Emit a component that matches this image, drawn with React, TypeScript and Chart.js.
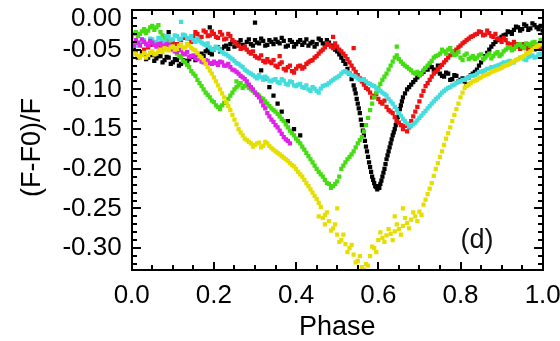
import React, { useEffect, useRef } from "react";
import { Chart, registerables } from "chart.js";

Chart.register(...registerables);

// ---- axis / tick definitions ----
const xMajorTicks = [0, 0.2, 0.4, 0.6, 0.8, 1.0];
const xMinorTicks = [0.05, 0.1, 0.15, 0.25, 0.3, 0.35, 0.45, 0.5, 0.55, 0.65, 0.7, 0.75, 0.85, 0.9, 0.95];
const yMajorTicks = [0, -0.05, -0.1, -0.15, -0.2, -0.25, -0.3];
const yMinorTicks = [-0.01, -0.02, -0.03, -0.04, -0.06, -0.07, -0.08, -0.09, -0.11, -0.12, -0.13, -0.14, -0.16, -0.17, -0.18, -0.19, -0.21, -0.22, -0.23, -0.24, -0.26, -0.27, -0.28, -0.29, -0.31, -0.32];
const xTitle = "Phase";
const yTitle = "(F-F0)/F  ";
const panelLabel = "(d)";
const panelLabelPos = [0.84, -0.29];

// ---- data: [phase, (F-F0)/F] ----
const black = [
  [0, -0.056], [0.01, -0.052], [0.02, -0.058], [0.03, -0.055], [0.04, -0.06], [0.05, -0.057], [0.06, -0.061], [0.07, -0.058], [0.08, -0.063], [0.09, -0.06],
  [0.1, -0.066], [0.11, -0.063], [0.12, -0.068], [0.13, -0.064], [0.14, -0.062], [0.15, -0.058], [0.16, -0.06], [0.17, -0.055], [0.18, -0.052], [0.19, -0.054],
  [0.2, -0.05], [0.21, -0.047], [0.22, -0.05], [0.23, -0.045], [0.24, -0.043], [0.25, -0.046], [0.26, -0.041], [0.27, -0.044], [0.28, -0.04], [0.29, -0.043],
  [0.3, -0.038], [0.31, -0.042], [0.32, -0.039], [0.33, -0.044], [0.34, -0.04], [0.35, -0.037], [0.36, -0.042], [0.37, -0.039], [0.38, -0.045], [0.39, -0.04],
  [0.4, -0.043], [0.41, -0.038], [0.42, -0.041], [0.43, -0.045], [0.44, -0.04], [0.45, -0.043], [0.46, -0.038], [0.47, -0.044], [0.48, -0.041], [0.49, -0.047],
  [0.5, -0.052], [0.51, -0.06], [0.52, -0.068], [0.53, -0.08], [0.54, -0.095], [0.545, -0.105], [0.55, -0.118], [0.555, -0.13], [0.56, -0.145], [0.565, -0.158],
  [0.57, -0.172], [0.575, -0.185], [0.58, -0.198], [0.585, -0.21], [0.59, -0.218], [0.595, -0.223], [0.6, -0.222], [0.605, -0.219], [0.61, -0.21], [0.615, -0.2],
  [0.62, -0.188], [0.625, -0.178], [0.63, -0.168], [0.635, -0.158], [0.64, -0.15], [0.645, -0.14], [0.65, -0.13], [0.655, -0.12], [0.66, -0.11], [0.67, -0.1],
  [0.68, -0.094], [0.69, -0.088], [0.7, -0.082], [0.71, -0.078], [0.72, -0.075], [0.73, -0.072], [0.74, -0.076], [0.75, -0.08], [0.76, -0.084], [0.77, -0.08],
  [0.78, -0.087], [0.79, -0.083], [0.8, -0.088], [0.81, -0.09], [0.82, -0.085], [0.83, -0.08], [0.84, -0.075], [0.85, -0.066], [0.86, -0.058], [0.87, -0.05],
  [0.88, -0.043], [0.89, -0.038], [0.9, -0.034], [0.91, -0.031], [0.92, -0.028], [0.93, -0.025], [0.94, -0.022], [0.95, -0.024], [0.96, -0.02], [0.97, -0.023],
  [0.98, -0.019], [0.99, -0.024], [1, -0.026],
  [0.315, -0.076], [0.325, -0.086], [0.335, -0.097], [0.345, -0.108], [0.355, -0.118], [0.365, -0.128], [0.38, -0.14], [0.395, -0.15], [0.41, -0.158],
  [0.3, -0.016], [0.09, -0.028], [0.19, -0.022],
];
const blackMid = [
  [0.005, -0.05], [0.015, -0.06], [0.025, -0.053], [0.035, -0.062], [0.045, -0.055], [0.055, -0.064], [0.065, -0.058], [0.075, -0.066], [0.085, -0.059], [0.095, -0.068],
  [0.105, -0.062], [0.115, -0.07], [0.125, -0.063], [0.135, -0.067], [0.145, -0.059], [0.155, -0.063], [0.165, -0.057], [0.175, -0.058], [0.185, -0.05], [0.195, -0.056],
  [0.205, -0.047], [0.215, -0.052], [0.225, -0.046], [0.235, -0.049], [0.245, -0.04], [0.255, -0.045], [0.265, -0.038], [0.275, -0.046], [0.285, -0.037], [0.295, -0.045],
  [0.305, -0.041], [0.315, -0.036], [0.325, -0.045], [0.335, -0.038], [0.345, -0.043], [0.355, -0.04], [0.365, -0.035], [0.375, -0.046], [0.385, -0.038], [0.395, -0.046],
  [0.405, -0.04], [0.415, -0.044], [0.425, -0.037], [0.435, -0.042], [0.445, -0.046], [0.455, -0.036], [0.465, -0.042], [0.475, -0.038], [0.485, -0.045], [0.495, -0.05],
  [0.505, -0.056], [0.515, -0.064], [0.525, -0.074], [0.535, -0.087], [0.5425, -0.1], [0.5475, -0.112], [0.5525, -0.124], [0.5575, -0.138], [0.5625, -0.152], [0.5675, -0.165],
  [0.5725, -0.178], [0.5775, -0.192], [0.5825, -0.204], [0.5875, -0.214], [0.5925, -0.222], [0.5975, -0.226], [0.6025, -0.224], [0.6075, -0.215], [0.6125, -0.205], [0.6175, -0.194],
  [0.6225, -0.183], [0.6275, -0.173], [0.6325, -0.163], [0.6375, -0.154], [0.6425, -0.145], [0.6475, -0.135], [0.6525, -0.125], [0.6575, -0.115], [0.665, -0.105], [0.675, -0.097],
  [0.685, -0.091], [0.695, -0.085], [0.705, -0.08], [0.715, -0.074], [0.725, -0.07], [0.735, -0.075], [0.745, -0.07], [0.755, -0.083], [0.765, -0.079], [0.775, -0.088],
  [0.785, -0.082], [0.795, -0.09], [0.805, -0.086], [0.815, -0.094], [0.825, -0.082], [0.835, -0.078], [0.845, -0.07], [0.855, -0.062], [0.865, -0.054], [0.875, -0.046],
  [0.885, -0.04], [0.895, -0.036], [0.905, -0.032], [0.915, -0.027], [0.925, -0.03], [0.935, -0.021], [0.945, -0.026], [0.955, -0.018], [0.965, -0.025], [0.975, -0.017],
  [0.985, -0.022], [0.995, -0.02],
];

const red = [
  [0, -0.048], [0.02, -0.045], [0.04, -0.047], [0.06, -0.043], [0.08, -0.045], [0.1, -0.041], [0.12, -0.038], [0.14, -0.036], [0.15, -0.033],
  [0.16, -0.03], [0.17, -0.034], [0.18, -0.028], [0.19, -0.032], [0.2, -0.03], [0.21, -0.035], [0.22, -0.031], [0.23, -0.036], [0.24, -0.033], [0.25, -0.04],
  [0.26, -0.045], [0.27, -0.048], [0.28, -0.05], [0.29, -0.055], [0.3, -0.058], [0.31, -0.061], [0.32, -0.064], [0.33, -0.062], [0.34, -0.067], [0.35, -0.07],
  [0.36, -0.068], [0.37, -0.074], [0.38, -0.072], [0.39, -0.077], [0.4, -0.074], [0.41, -0.07], [0.42, -0.072], [0.43, -0.066], [0.44, -0.063], [0.45, -0.058],
  [0.46, -0.052], [0.47, -0.047], [0.48, -0.044], [0.49, -0.048], [0.5, -0.046], [0.51, -0.052], [0.52, -0.058], [0.53, -0.066], [0.54, -0.074], [0.55, -0.082],
  [0.56, -0.09], [0.57, -0.098], [0.58, -0.104], [0.59, -0.108], [0.6, -0.112], [0.61, -0.118], [0.62, -0.122], [0.63, -0.128], [0.64, -0.135], [0.65, -0.142],
  [0.66, -0.15], [0.665, -0.146], [0.67, -0.153], [0.68, -0.14], [0.69, -0.128], [0.7, -0.115], [0.71, -0.102], [0.72, -0.092], [0.73, -0.084], [0.74, -0.078],
  [0.75, -0.072], [0.76, -0.066], [0.77, -0.06], [0.78, -0.055], [0.79, -0.05], [0.8, -0.045], [0.81, -0.04], [0.82, -0.036], [0.83, -0.033], [0.84, -0.03],
  [0.85, -0.028], [0.86, -0.031], [0.87, -0.029], [0.88, -0.034], [0.89, -0.036], [0.9, -0.04], [0.91, -0.038], [0.92, -0.043], [0.93, -0.04], [0.94, -0.046],
  [0.95, -0.043], [0.96, -0.048], [0.97, -0.045], [0.98, -0.05], [0.99, -0.046], [1, -0.043],
  [0.49, -0.034], [0.54, -0.048], [0.36, -0.058],
];
const redMid = [
  [0.01, -0.043], [0.03, -0.05], [0.05, -0.044], [0.07, -0.048], [0.09, -0.04], [0.11, -0.043], [0.13, -0.035], [0.145, -0.04], [0.155, -0.028], [0.165, -0.035],
  [0.175, -0.026], [0.185, -0.033], [0.195, -0.027], [0.205, -0.034], [0.215, -0.028], [0.225, -0.037], [0.235, -0.03], [0.245, -0.038], [0.255, -0.043], [0.265, -0.049],
  [0.275, -0.046], [0.285, -0.053], [0.295, -0.052], [0.305, -0.06], [0.315, -0.057], [0.325, -0.066], [0.335, -0.065], [0.345, -0.063], [0.355, -0.072], [0.365, -0.066],
  [0.375, -0.076], [0.385, -0.07], [0.395, -0.079], [0.405, -0.071], [0.415, -0.074], [0.425, -0.068], [0.435, -0.064], [0.445, -0.06], [0.455, -0.055], [0.465, -0.05],
  [0.475, -0.042], [0.485, -0.046], [0.495, -0.042], [0.505, -0.05], [0.515, -0.055], [0.525, -0.062], [0.535, -0.07], [0.545, -0.078], [0.555, -0.086], [0.565, -0.094],
  [0.575, -0.1], [0.585, -0.11], [0.595, -0.106], [0.605, -0.116], [0.615, -0.114], [0.625, -0.126], [0.635, -0.13], [0.645, -0.14], [0.655, -0.145], [0.675, -0.148],
  [0.685, -0.134], [0.695, -0.122], [0.705, -0.108], [0.715, -0.096], [0.725, -0.088], [0.735, -0.08], [0.745, -0.075], [0.755, -0.069], [0.765, -0.063], [0.775, -0.057],
  [0.785, -0.052], [0.795, -0.047], [0.805, -0.042], [0.815, -0.038], [0.825, -0.034], [0.835, -0.031], [0.845, -0.027], [0.855, -0.032], [0.865, -0.026], [0.875, -0.033],
  [0.885, -0.03], [0.895, -0.037], [0.905, -0.035], [0.915, -0.042], [0.925, -0.045], [0.935, -0.043], [0.945, -0.049], [0.955, -0.044], [0.965, -0.05], [0.975, -0.047],
  [0.985, -0.044], [0.995, -0.048],
];

const green = [
  [0, -0.033], [0.01, -0.028], [0.02, -0.03], [0.03, -0.024], [0.04, -0.026], [0.05, -0.02], [0.06, -0.022], [0.07, -0.028], [0.08, -0.035], [0.09, -0.042],
  [0.1, -0.048], [0.11, -0.055], [0.12, -0.06], [0.13, -0.066], [0.14, -0.072], [0.15, -0.08], [0.16, -0.088], [0.17, -0.096], [0.18, -0.104], [0.19, -0.11],
  [0.2, -0.116], [0.21, -0.122], [0.22, -0.12], [0.23, -0.116], [0.24, -0.108], [0.25, -0.1], [0.26, -0.095], [0.27, -0.098], [0.28, -0.094], [0.29, -0.1],
  [0.3, -0.104], [0.31, -0.108], [0.32, -0.112], [0.33, -0.118], [0.34, -0.124], [0.35, -0.128], [0.36, -0.134], [0.37, -0.14], [0.38, -0.148], [0.39, -0.155],
  [0.4, -0.162], [0.41, -0.168], [0.42, -0.176], [0.43, -0.184], [0.44, -0.192], [0.45, -0.2], [0.46, -0.207], [0.47, -0.214], [0.48, -0.219], [0.49, -0.222],
  [0.5, -0.216], [0.51, -0.2], [0.52, -0.192], [0.53, -0.185], [0.54, -0.178], [0.55, -0.168], [0.56, -0.16], [0.57, -0.145], [0.58, -0.126], [0.59, -0.11],
  [0.6, -0.098], [0.61, -0.088], [0.62, -0.08], [0.63, -0.07], [0.64, -0.06], [0.65, -0.062], [0.66, -0.068], [0.67, -0.072], [0.68, -0.076], [0.69, -0.08],
  [0.7, -0.082], [0.71, -0.076], [0.72, -0.07], [0.73, -0.064], [0.74, -0.058], [0.75, -0.055], [0.76, -0.052], [0.77, -0.05], [0.78, -0.053], [0.79, -0.056],
  [0.8, -0.06], [0.81, -0.057], [0.82, -0.062], [0.83, -0.058], [0.84, -0.06], [0.85, -0.056], [0.86, -0.06], [0.87, -0.055], [0.88, -0.058], [0.89, -0.053],
  [0.9, -0.056], [0.91, -0.05], [0.92, -0.047], [0.93, -0.049], [0.94, -0.044], [0.95, -0.046], [0.96, -0.042], [0.97, -0.045], [0.98, -0.04], [0.99, -0.043],
  [1, -0.04],
  [0.645, -0.046], [0.255, -0.09],
];
const greenMid = [
  [0.005, -0.03], [0.015, -0.033], [0.025, -0.027], [0.035, -0.029], [0.045, -0.022], [0.055, -0.025], [0.065, -0.019], [0.075, -0.032], [0.085, -0.038], [0.095, -0.046],
  [0.105, -0.051], [0.115, -0.058], [0.125, -0.064], [0.135, -0.069], [0.145, -0.077], [0.155, -0.083], [0.165, -0.092], [0.175, -0.1], [0.185, -0.107], [0.195, -0.114],
  [0.205, -0.12], [0.215, -0.125], [0.225, -0.117], [0.235, -0.112], [0.245, -0.104], [0.255, -0.097], [0.265, -0.092], [0.275, -0.096], [0.285, -0.098], [0.295, -0.102],
  [0.305, -0.106], [0.315, -0.111], [0.325, -0.115], [0.335, -0.121], [0.345, -0.126], [0.355, -0.131], [0.365, -0.137], [0.375, -0.144], [0.385, -0.152], [0.395, -0.158],
  [0.405, -0.165], [0.415, -0.172], [0.425, -0.18], [0.435, -0.188], [0.445, -0.196], [0.455, -0.204], [0.465, -0.21], [0.475, -0.218], [0.485, -0.224], [0.495, -0.219],
  [0.505, -0.21], [0.515, -0.196], [0.525, -0.188], [0.535, -0.182], [0.545, -0.173], [0.555, -0.164], [0.565, -0.153], [0.575, -0.136], [0.585, -0.118], [0.595, -0.104],
  [0.605, -0.093], [0.615, -0.084], [0.625, -0.075], [0.635, -0.065], [0.645, -0.057], [0.655, -0.065], [0.665, -0.07], [0.675, -0.074], [0.685, -0.079], [0.695, -0.078],
  [0.705, -0.08], [0.715, -0.073], [0.725, -0.067], [0.735, -0.06], [0.745, -0.057], [0.755, -0.05], [0.765, -0.055], [0.775, -0.048], [0.785, -0.057], [0.795, -0.053],
  [0.805, -0.063], [0.815, -0.055], [0.825, -0.06], [0.835, -0.062], [0.845, -0.057], [0.855, -0.062], [0.865, -0.057], [0.875, -0.061], [0.885, -0.055], [0.895, -0.058],
  [0.905, -0.052], [0.915, -0.048], [0.925, -0.051], [0.935, -0.046], [0.945, -0.043], [0.955, -0.048], [0.965, -0.043], [0.975, -0.041], [0.985, -0.044], [0.995, -0.038],
];

const cyan = [
  [0, -0.045], [0.01, -0.04], [0.02, -0.043], [0.03, -0.038], [0.04, -0.042], [0.05, -0.037], [0.06, -0.04], [0.07, -0.036], [0.08, -0.039], [0.09, -0.034],
  [0.1, -0.037], [0.11, -0.033], [0.12, -0.036], [0.13, -0.032], [0.14, -0.035], [0.15, -0.038], [0.16, -0.036], [0.17, -0.041], [0.18, -0.044], [0.19, -0.047],
  [0.2, -0.05], [0.21, -0.048], [0.22, -0.053], [0.23, -0.056], [0.24, -0.06], [0.25, -0.064], [0.26, -0.068], [0.27, -0.072], [0.28, -0.077], [0.29, -0.08],
  [0.3, -0.084], [0.31, -0.082], [0.32, -0.088], [0.33, -0.086], [0.34, -0.09], [0.35, -0.087], [0.36, -0.092], [0.37, -0.089], [0.38, -0.094], [0.39, -0.091],
  [0.4, -0.096], [0.41, -0.093], [0.42, -0.098], [0.43, -0.1], [0.44, -0.097], [0.45, -0.102], [0.46, -0.099], [0.47, -0.095], [0.48, -0.092], [0.49, -0.088],
  [0.5, -0.085], [0.51, -0.08], [0.52, -0.077], [0.53, -0.08], [0.54, -0.083], [0.55, -0.086], [0.56, -0.088], [0.57, -0.09], [0.58, -0.093], [0.59, -0.096],
  [0.6, -0.1], [0.61, -0.104], [0.62, -0.108], [0.63, -0.115], [0.64, -0.122], [0.65, -0.13], [0.66, -0.137], [0.67, -0.143], [0.68, -0.146], [0.69, -0.142],
  [0.7, -0.136], [0.71, -0.13], [0.72, -0.124], [0.73, -0.118], [0.74, -0.112], [0.75, -0.107], [0.76, -0.102], [0.77, -0.098], [0.78, -0.095], [0.79, -0.092],
  [0.8, -0.09], [0.81, -0.088], [0.82, -0.085], [0.83, -0.083], [0.84, -0.08], [0.85, -0.078], [0.86, -0.076], [0.87, -0.074], [0.88, -0.072], [0.89, -0.07],
  [0.9, -0.068], [0.91, -0.067], [0.92, -0.064], [0.93, -0.066], [0.94, -0.062], [0.95, -0.06], [0.96, -0.063], [0.97, -0.058], [0.98, -0.06], [0.99, -0.056],
  [1, -0.058],
  [0.12, -0.015],
];
const cyanMid = [
  [0.005, -0.041], [0.015, -0.045], [0.025, -0.039], [0.035, -0.043], [0.045, -0.036], [0.055, -0.041], [0.065, -0.035], [0.075, -0.04], [0.085, -0.033], [0.095, -0.038],
  [0.105, -0.032], [0.115, -0.037], [0.125, -0.031], [0.135, -0.036], [0.145, -0.033], [0.155, -0.04], [0.165, -0.039], [0.175, -0.043], [0.185, -0.042], [0.195, -0.05],
  [0.205, -0.046], [0.215, -0.051], [0.225, -0.055], [0.235, -0.058], [0.245, -0.062], [0.255, -0.067], [0.265, -0.07], [0.275, -0.075], [0.285, -0.079], [0.295, -0.082],
  [0.305, -0.086], [0.315, -0.085], [0.325, -0.084], [0.335, -0.089], [0.345, -0.088], [0.355, -0.091], [0.365, -0.087], [0.375, -0.093], [0.385, -0.09], [0.395, -0.095],
  [0.405, -0.094], [0.415, -0.097], [0.425, -0.095], [0.435, -0.102], [0.445, -0.099], [0.455, -0.104], [0.465, -0.096], [0.475, -0.094], [0.485, -0.09], [0.495, -0.086],
  [0.505, -0.083], [0.515, -0.078], [0.525, -0.079], [0.535, -0.082], [0.545, -0.084], [0.555, -0.088], [0.565, -0.087], [0.575, -0.092], [0.585, -0.095], [0.595, -0.098],
  [0.605, -0.102], [0.615, -0.106], [0.625, -0.112], [0.635, -0.118], [0.645, -0.126], [0.655, -0.133], [0.665, -0.14], [0.675, -0.147], [0.685, -0.144], [0.695, -0.139],
  [0.705, -0.133], [0.715, -0.127], [0.725, -0.121], [0.735, -0.115], [0.745, -0.11], [0.755, -0.104], [0.765, -0.1], [0.775, -0.097], [0.785, -0.094], [0.795, -0.09],
  [0.805, -0.088], [0.815, -0.086], [0.825, -0.083], [0.835, -0.082], [0.845, -0.078], [0.855, -0.077], [0.865, -0.074], [0.875, -0.072], [0.885, -0.071], [0.895, -0.069],
  [0.905, -0.066], [0.915, -0.065], [0.925, -0.066], [0.935, -0.063], [0.945, -0.06], [0.955, -0.062], [0.965, -0.059], [0.975, -0.057], [0.985, -0.059], [0.995, -0.055],
];

const magenta = [
  [0, -0.042], [0.01, -0.038], [0.02, -0.044], [0.03, -0.04], [0.04, -0.045], [0.05, -0.041], [0.06, -0.046], [0.07, -0.042], [0.08, -0.047], [0.09, -0.044],
  [0.1, -0.05], [0.11, -0.053], [0.12, -0.051], [0.13, -0.056], [0.14, -0.059], [0.15, -0.057], [0.16, -0.062], [0.17, -0.065], [0.18, -0.063], [0.19, -0.067],
  [0.2, -0.065], [0.21, -0.069], [0.22, -0.066], [0.23, -0.07], [0.24, -0.072], [0.25, -0.076], [0.26, -0.08], [0.27, -0.085], [0.28, -0.09], [0.29, -0.097],
  [0.3, -0.104], [0.31, -0.11], [0.32, -0.12], [0.33, -0.13], [0.34, -0.138], [0.35, -0.145], [0.36, -0.152], [0.37, -0.16], [0.38, -0.165],
];
const magentaMid = [
  [0.005, -0.045], [0.015, -0.041], [0.025, -0.037], [0.035, -0.043], [0.045, -0.039], [0.055, -0.044], [0.065, -0.043], [0.075, -0.045], [0.085, -0.043], [0.095, -0.048],
  [0.105, -0.052], [0.115, -0.05], [0.125, -0.055], [0.135, -0.053], [0.145, -0.058], [0.155, -0.061], [0.165, -0.06], [0.175, -0.066], [0.185, -0.064], [0.195, -0.068],
  [0.205, -0.067], [0.215, -0.065], [0.225, -0.07], [0.235, -0.068], [0.245, -0.075], [0.255, -0.078], [0.265, -0.083], [0.275, -0.087], [0.285, -0.094], [0.295, -0.1],
  [0.305, -0.107], [0.315, -0.115], [0.325, -0.124], [0.335, -0.134], [0.345, -0.141], [0.355, -0.148], [0.365, -0.156], [0.375, -0.163], [0.385, -0.168],
];

const yellow = [
  [0, -0.058], [0.01, -0.055], [0.02, -0.06], [0.03, -0.054], [0.04, -0.057], [0.05, -0.052], [0.06, -0.055], [0.07, -0.05], [0.08, -0.048], [0.09, -0.051],
  [0.1, -0.046], [0.11, -0.049], [0.12, -0.044], [0.13, -0.047], [0.14, -0.045], [0.15, -0.05], [0.16, -0.054], [0.17, -0.06], [0.18, -0.068], [0.19, -0.076],
  [0.2, -0.085], [0.21, -0.095], [0.22, -0.105], [0.23, -0.116], [0.24, -0.126], [0.25, -0.138], [0.26, -0.15], [0.27, -0.158], [0.28, -0.164], [0.29, -0.168],
  [0.3, -0.17], [0.31, -0.167], [0.32, -0.171], [0.33, -0.168], [0.34, -0.174], [0.35, -0.178], [0.36, -0.182], [0.37, -0.186], [0.38, -0.19], [0.39, -0.195],
  [0.4, -0.2], [0.41, -0.207], [0.42, -0.214], [0.43, -0.222], [0.44, -0.23], [0.45, -0.238], [0.46, -0.248], [0.47, -0.258], [0.48, -0.266], [0.49, -0.275],
  [0.5, -0.283], [0.51, -0.29], [0.52, -0.295], [0.53, -0.3], [0.54, -0.308], [0.55, -0.316], [0.56, -0.324], [0.565, -0.327], [0.57, -0.32], [0.58, -0.31],
  [0.59, -0.3], [0.6, -0.29], [0.61, -0.287], [0.62, -0.284], [0.63, -0.282], [0.64, -0.279], [0.65, -0.276], [0.66, -0.272], [0.67, -0.268], [0.68, -0.264],
  [0.69, -0.26], [0.7, -0.254], [0.71, -0.245], [0.72, -0.232], [0.73, -0.218], [0.74, -0.2], [0.75, -0.185], [0.76, -0.17], [0.77, -0.155], [0.78, -0.14],
  [0.79, -0.125], [0.8, -0.11], [0.81, -0.098], [0.82, -0.094], [0.83, -0.09], [0.84, -0.088], [0.85, -0.085], [0.86, -0.082], [0.87, -0.08], [0.88, -0.077],
  [0.89, -0.075], [0.9, -0.073], [0.91, -0.07], [0.92, -0.068], [0.93, -0.065], [0.94, -0.062], [0.95, -0.06], [0.96, -0.055], [0.97, -0.052], [0.98, -0.048],
  [0.99, -0.045], [1, -0.042],
  [0.5, -0.25], [0.64, -0.26], [0.66, -0.25], [0.47, -0.27], [0.455, -0.26],
];
const yellowMid = [
  [0.005, -0.055], [0.015, -0.058], [0.025, -0.057], [0.035, -0.06], [0.045, -0.054], [0.055, -0.056], [0.065, -0.052], [0.075, -0.053], [0.085, -0.05], [0.095, -0.047],
  [0.105, -0.05], [0.115, -0.045], [0.125, -0.048], [0.135, -0.043], [0.145, -0.048], [0.155, -0.051], [0.165, -0.058], [0.175, -0.063], [0.185, -0.072], [0.195, -0.08],
  [0.205, -0.09], [0.215, -0.1], [0.225, -0.11], [0.235, -0.121], [0.245, -0.132], [0.255, -0.144], [0.265, -0.154], [0.275, -0.162], [0.285, -0.166], [0.295, -0.172],
  [0.305, -0.168], [0.315, -0.173], [0.325, -0.166], [0.335, -0.171], [0.345, -0.176], [0.355, -0.18], [0.365, -0.184], [0.375, -0.188], [0.385, -0.193], [0.395, -0.197],
  [0.405, -0.204], [0.415, -0.21], [0.425, -0.218], [0.435, -0.226], [0.445, -0.234], [0.455, -0.243], [0.465, -0.262], [0.475, -0.255], [0.485, -0.278], [0.495, -0.27],
  [0.505, -0.292], [0.515, -0.283], [0.525, -0.305], [0.535, -0.296], [0.545, -0.318], [0.555, -0.31], [0.575, -0.322], [0.585, -0.298], [0.595, -0.305], [0.605, -0.28],
  [0.615, -0.292], [0.625, -0.276], [0.635, -0.29], [0.645, -0.27], [0.655, -0.283], [0.665, -0.262], [0.675, -0.275], [0.685, -0.255], [0.695, -0.266], [0.705, -0.258],
  [0.715, -0.239], [0.725, -0.225], [0.735, -0.209], [0.745, -0.193], [0.755, -0.178], [0.765, -0.162], [0.775, -0.148], [0.785, -0.132], [0.795, -0.118], [0.805, -0.104],
  [0.815, -0.096], [0.825, -0.092], [0.835, -0.089], [0.845, -0.086], [0.855, -0.083], [0.865, -0.081], [0.875, -0.078], [0.885, -0.076], [0.895, -0.074], [0.905, -0.071],
  [0.915, -0.069], [0.925, -0.066], [0.935, -0.063], [0.945, -0.061], [0.955, -0.058], [0.965, -0.054], [0.975, -0.05], [0.985, -0.046], [0.995, -0.043],
];

const seriesColors = {
  black: "#000000",
  red: "#ee1111",
  green: "#44dd11",
  cyan: "#44dddd",
  magenta: "#e022e8",
  yellow: "#e6de00",
};

const FONT = "'Liberation Sans', Arial, Helvetica, sans-serif";

const framePlugin = {
  id: "idlFrame",
  afterDatasetsDraw(chart: any) {
    const { ctx, chartArea: a, scales } = chart;
    const xs = scales.x;
    const ys = scales.y;
    ctx.save();
    ctx.fillStyle = "#000";
    const L = Math.round(a.left);
    const R = Math.round(a.right);
    const T = Math.round(a.top);
    const B = Math.round(a.bottom);
    // frame (2px)
    ctx.fillRect(L - 1, T - 1, R - L + 2, 2);
    ctx.fillRect(L - 1, B - 1, R - L + 2, 2);
    ctx.fillRect(L - 1, T - 1, 2, B - T + 2);
    ctx.fillRect(R - 1, T - 1, 2, B - T + 2);
    // inward ticks on all four sides
    const xTick = (v: number, len: number) => {
      const p = Math.round(xs.getPixelForValue(v));
      ctx.fillRect(p - 1, B - len, 2, len);
      ctx.fillRect(p - 1, T, 2, len);
    };
    const yTick = (v: number, len: number) => {
      const p = Math.round(ys.getPixelForValue(v));
      ctx.fillRect(L, p - 1, len, 2);
      ctx.fillRect(R - len, p - 1, len, 2);
    };
    xMajorTicks.forEach((v) => xTick(v, 8));
    xMinorTicks.forEach((v) => xTick(v, 5));
    yMajorTicks.forEach((v) => yTick(v, 9));
    yMinorTicks.forEach((v) => yTick(v, 5));
    ctx.fillStyle = "#111";
    ctx.font = `27px ${FONT}`;
    ctx.textAlign = "center";
    ctx.textBaseline = "middle";
    ctx.fillText(panelLabel, xs.getPixelForValue(panelLabelPos[0]), ys.getPixelForValue(panelLabelPos[1]));
    ctx.restore();
  },
};

export default function App() {
  const ref = useRef<HTMLCanvasElement>(null);
  useEffect(() => {
    const canvas = ref.current;
    if (!canvas) return;
    const mk = (pts: number[][], color: string) => ({
      data: pts.map(([x, y]) => ({ x, y })),
      backgroundColor: color,
      borderColor: color,
      pointStyle: "rect",
      pointRadius: 3,
      pointBorderWidth: 0,
      showLine: false,
    });
    const chart = new Chart(canvas, {
      type: "scatter",
      data: {
        datasets: [
          mk(yellow.concat(yellowMid), seriesColors.yellow),
          mk(magenta.concat(magentaMid), seriesColors.magenta),
          mk(cyan.concat(cyanMid), seriesColors.cyan),
          mk(green.concat(greenMid), seriesColors.green),
          mk(red.concat(redMid), seriesColors.red),
          mk(black.concat(blackMid), seriesColors.black),
        ] as any,
      },
      options: {
        animation: false,
        responsive: false,
        devicePixelRatio: 1,
        events: [],
        layout: { padding: { top: 10, right: 17.3, left: 0, bottom: 0 } },
        plugins: { legend: { display: false }, tooltip: { enabled: false } },
        scales: {
          x: {
            type: "linear",
            min: 0,
            max: 1,
            grid: { display: false, drawTicks: false },
            border: { display: false },
            ticks: {
              stepSize: 0.2,
              autoSkip: false,
              maxRotation: 0,
              padding: 10,
              color: "#000",
              font: { family: FONT, size: 26 },
              callback: (v: any) => Number(v).toFixed(1),
            },
            title: {
              display: true,
              text: xTitle,
              color: "#000",
              font: { family: FONT, size: 27, lineHeight: 1 },
              padding: { top: 0, bottom: 0 },
            },
            afterFit: (s: any) => {
              s.height = 71;
              s.paddingLeft = 0;
              s.paddingRight = 0;
            },
          },
          y: {
            type: "linear",
            min: -0.3275,
            max: 0,
            grid: { display: false, drawTicks: false },
            border: { display: false },
            ticks: {
              stepSize: 0.05,
              includeBounds: false,
              autoSkip: false,
              padding: 10,
              color: "#000",
              font: { family: FONT, size: 26, lineHeight: 0.7 },
              callback: (v: any) => {
                const s = Number(v).toFixed(2).replace("-0.00", "0.00");
                return Math.abs(Number(v)) < 1e-9 ? ["", s] : s;
              },
            },
            title: {
              display: true,
              text: yTitle,
              color: "#000",
              font: { family: FONT, size: 27, lineHeight: 1 },
              padding: { top: 19, bottom: 0 },
            },
            afterFit: (s: any) => {
              s.width = 131.7;
              s.paddingTop = 0;
              s.paddingBottom = 0;
            },
          },
        },
      } as any,
      plugins: [framePlugin],
    });
    return () => chart.destroy();
  }, []);
  return (
    <div style={{ position: "absolute", left: 0, top: 0, width: 560, height: 341, background: "#fff" }}>
      <canvas ref={ref} width={560} height={341} style={{ display: "block", width: 560, height: 341 }} />
    </div>
  );
}
